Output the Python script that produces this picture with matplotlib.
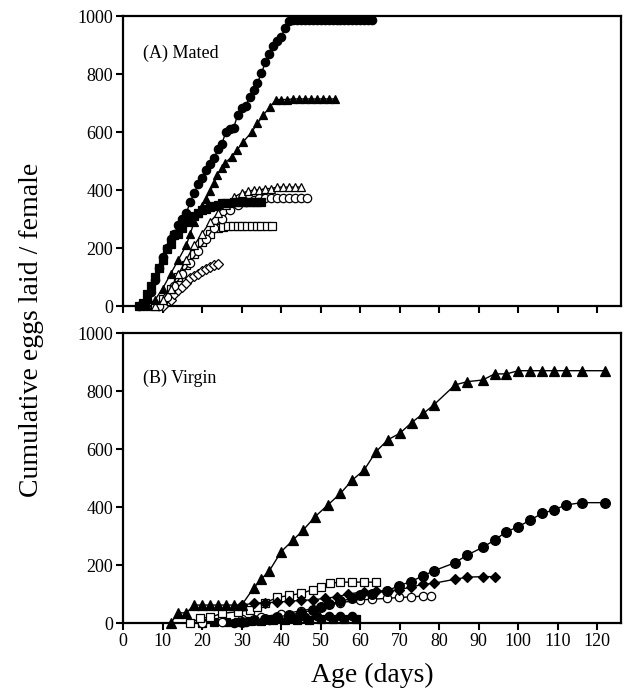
import numpy as np
import matplotlib
matplotlib.use("Agg")
import matplotlib.pyplot as plt

plt.rcParams["font.family"] = ["Liberation Serif", "DejaVu Serif"]

# ---- (A) Mated ----
mated_fcirc_days = [4, 5, 6, 7, 8, 9, 10, 11, 12, 13, 14, 15, 16, 17, 18, 19, 20, 21, 22, 23,
                    24, 25, 26, 27, 28, 29, 30, 31, 32, 33, 34, 35, 36, 37, 38, 39, 40, 41, 42,
                    43, 44, 45, 46, 47, 48, 49, 50, 51, 52, 53, 54, 55, 56, 57, 58, 59, 60, 61,
                    62, 63]
mated_fcirc_vals = [0, 5, 20, 50, 90, 130, 170, 200, 230, 250, 280, 300, 320, 360, 390, 420,
                    440, 470, 490, 510, 540, 560, 600, 612, 615, 660, 683, 690, 720, 745, 770,
                    803, 840, 869, 895, 915, 929, 960, 983,
                    985, 985, 985, 985, 985, 985, 985, 985, 985, 985, 985, 985, 985, 985, 985,
                    985, 985, 985, 985, 985, 985]

mated_ftri_days = [6, 8, 10, 12, 14, 16, 17, 18, 19, 20, 21, 22, 23, 23.7, 25, 25.8, 27.5,
                   28.8, 30.4, 32.6, 34, 35.5, 37.2, 38.7, 40, 41.5, 43, 44.5, 46, 47.5, 49,
                   50.5, 52, 53.5]
mated_ftri_vals = [0, 20, 60, 110, 160, 210, 250, 290, 320, 345, 370, 395, 425, 452, 475, 493,
                   515, 538, 566, 601, 630, 659, 687, 712, 712, 712, 714, 714, 714, 714, 714,
                   714, 714, 714]

mated_otri_days = [8, 10, 12, 14, 16, 18, 20, 22, 24, 26, 28, 30, 31.5, 33, 34.5, 36, 37.5,
                   39, 40.5, 42, 43.5, 45]
mated_otri_vals = [0, 20, 60, 110, 160, 210, 250, 290, 320, 350, 375, 390, 395, 400, 400, 405,
                   405, 410, 410, 410, 410, 410]

mated_ocirc_days = [9, 11, 13, 15, 17, 19, 21, 23, 25, 27, 29, 31, 33, 34.5, 36, 37.5, 39,
                    40.5, 42, 43.5, 45, 46.5]
mated_ocirc_vals = [0, 30, 70, 110, 150, 190, 230, 270, 300, 330, 350, 360, 365, 372, 372, 372,
                    372, 372, 372, 372, 372, 372]

mated_osq_days = [8, 10, 12, 14, 16, 18, 20, 22, 24, 25.3, 26.5, 27.7, 29, 30.2, 31.4, 32.6,
                  33.8, 35, 36.3, 37.6]
mated_osq_vals = [0, 25, 60, 100, 140, 180, 220, 250, 270, 273, 275, 275, 275, 275, 275, 275,
                  275, 275, 275, 275]

mated_fsq_days = [4, 5, 6, 7, 8, 9, 10, 11, 12, 13, 14, 15, 16, 17, 18, 19, 20, 21, 22, 23,
                  24, 25, 26, 27, 28, 29, 30, 31, 32, 33, 34, 35]
mated_fsq_vals = [0, 10, 40, 70, 100, 130, 160, 195, 215, 245, 250, 270, 290, 300, 310, 320,
                  330, 335, 340, 345, 350, 355, 355, 355, 360, 360, 360, 360, 360, 360, 360, 360]

mated_odia_days = [10, 12, 13, 14, 15, 16, 17, 18, 19, 20, 21, 22, 23, 24]
mated_odia_vals = [0, 20, 40, 55, 66, 80, 95, 105, 112, 120, 128, 136, 141, 145]

# ---- (B) Virgin ----
virgin_ftri_days = [12, 14, 16, 18, 20, 22, 24, 26, 28, 30, 33, 35, 37, 40, 43, 45.6, 48.6,
                    51.8, 55, 58, 61, 64, 67, 70, 73, 76, 78.6, 84, 87, 91, 94, 97, 100, 103,
                    106, 109, 112, 116, 122]
virgin_ftri_vals = [0, 35, 35, 62, 62, 62, 62, 62, 62, 62, 120, 152, 180, 246, 286, 321, 367,
                    407, 447, 493, 528, 591, 632, 654, 691, 723, 752, 821, 832, 838, 859, 859,
                    870, 870, 870, 870, 870, 870, 870]

virgin_fcirc_days = [30, 33, 36, 39, 42, 45, 48, 50, 52, 55, 58, 60, 63, 66.8, 69.7, 72.8,
                     75.8, 78.6, 84, 87, 91, 94, 97, 100, 103, 106, 109, 112, 116, 122]
virgin_fcirc_vals = [5, 10, 15, 20, 28, 35, 45, 55, 65, 75, 85, 95, 100, 111, 128, 143, 162,
                     180, 208, 234, 261, 286, 315, 332, 355, 378, 390, 407, 415, 415]

virgin_fdia_days = [30, 33, 36, 39, 42, 45, 48, 51, 54, 57, 61, 64, 67, 69.7, 72.8, 75.8,
                    78.6, 84, 87, 91, 94]
virgin_fdia_vals = [62, 68, 70, 72, 75, 78, 80, 85, 90, 100, 108, 110, 112, 114, 124, 133,
                    137, 151, 158, 160, 160]

virgin_osq_days = [17, 19.5, 22, 25, 29, 32, 34, 36, 39, 42, 45, 48, 50, 52.4, 55, 58, 61, 64]
virgin_osq_vals = [0, 17, 20, 33, 39, 45, 55, 70, 88, 95, 102, 115, 125, 137, 141, 141, 141,
                   141]

virgin_ocirc_days = [20, 25, 30, 35, 40, 45, 50, 55, 60, 63, 66.8, 69.7, 72.8, 75.8, 78]
virgin_ocirc_vals = [0, 5, 15, 22, 30, 42, 55, 70, 80, 82, 85, 88, 90, 93, 93]

virgin_fcirc0_days = [28, 31, 34, 37, 40, 43, 46, 49, 52, 55, 58]
virgin_fcirc0_vals = [0, 5, 10, 12, 15, 18, 20, 25, 25, 25, 25]

virgin_fsq_days = [20, 23, 26, 29, 32, 35, 38, 41, 44, 47, 50, 53, 56, 59]
virgin_fsq_vals = [0, 2, 3, 5, 6, 8, 10, 10, 12, 12, 14, 14, 14, 14]

x_ticks = list(range(0, 130, 10))
y_ticks = [0, 200, 400, 600, 800, 1000]


def plot_series(ax, days, vals, marker, filled, ms=6):
    ax.plot(days, vals, color="black", linewidth=1.0, marker=marker, markersize=ms,
            markerfacecolor="black" if filled else "white",
            markeredgecolor="black", markeredgewidth=0.9, clip_on=False, zorder=3)


def style_axes(ax, show_xlabels):
    ax.set_xlim(0, 126)
    ax.set_ylim(0, 1000)
    ax.set_xticks(x_ticks)
    ax.set_yticks(y_ticks)
    ax.tick_params(direction="out", length=5, width=1.5, labelsize=13, pad=2)
    if not show_xlabels:
        ax.tick_params(axis="x", labelbottom=False)
    for s in ax.spines.values():
        s.set_linewidth(1.6)


fig = plt.figure(figsize=(6.28, 6.99), dpi=100)
ax_a = fig.add_axes([0.196, 0.5622, 0.793, 0.4149])
ax_b = fig.add_axes([0.196, 0.1087, 0.793, 0.4149])

plot_series(ax_a, mated_odia_days, mated_odia_vals, "D", False, 5)
plot_series(ax_a, mated_osq_days, mated_osq_vals, "s", False)
plot_series(ax_a, mated_ocirc_days, mated_ocirc_vals, "o", False)
plot_series(ax_a, mated_otri_days, mated_otri_vals, "^", False)
plot_series(ax_a, mated_fsq_days, mated_fsq_vals, "s", True)
plot_series(ax_a, mated_ftri_days, mated_ftri_vals, "^", True)
plot_series(ax_a, mated_fcirc_days, mated_fcirc_vals, "o", True)
ax_a.text(5, 870, "(A) Mated", fontsize=13, va="center", ha="left")
style_axes(ax_a, False)

plot_series(ax_b, virgin_fsq_days, virgin_fsq_vals, "s", True)
plot_series(ax_b, virgin_fcirc0_days, virgin_fcirc0_vals, "o", True)
plot_series(ax_b, virgin_ocirc_days, virgin_ocirc_vals, "o", False)
plot_series(ax_b, virgin_osq_days, virgin_osq_vals, "s", False)
plot_series(ax_b, virgin_fdia_days, virgin_fdia_vals, "D", True, 5)
plot_series(ax_b, virgin_fcirc_days, virgin_fcirc_vals, "o", True, 7)
plot_series(ax_b, virgin_ftri_days, virgin_ftri_vals, "^", True, 7)
ax_b.text(5, 845, "(B) Virgin", fontsize=13, va="center", ha="left")
style_axes(ax_b, True)

fig.text(32 / 628, 1 - 330 / 699, "Cumulative eggs laid / female", rotation=90,
         fontsize=20, ha="center", va="center")
fig.text(372 / 628, 1 - 675 / 699, "Age (days)", fontsize=20, ha="center", va="center")

fig.savefig("out.png", dpi=100)
